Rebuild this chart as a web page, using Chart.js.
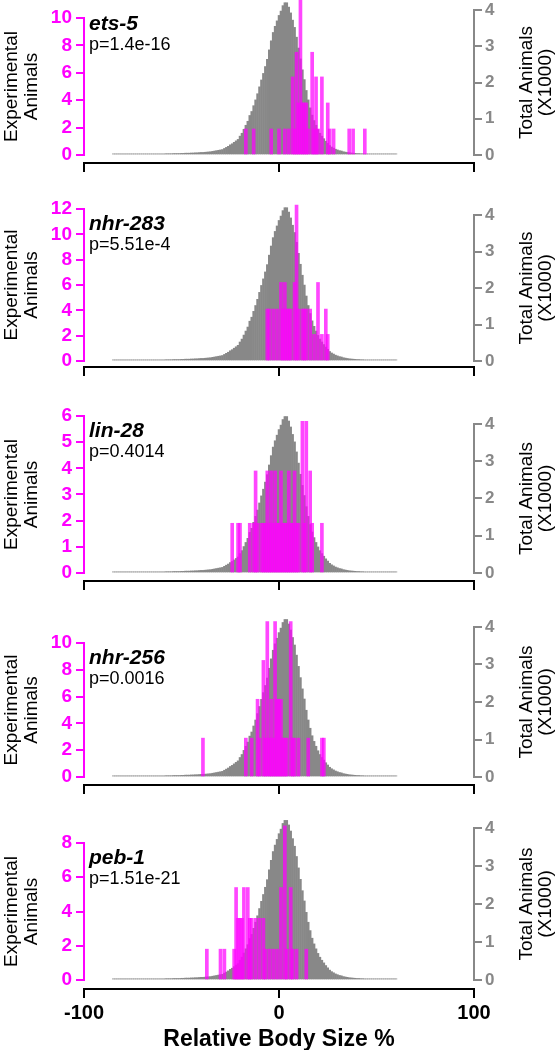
<!DOCTYPE html>
<html>
<head>
<meta charset="utf-8">
<script src="https://cdn.jsdelivr.net/npm/chart.js@4.4.0/dist/chart.umd.min.js"></script>
<style>
  body { margin: 0; background: #fff; width: 560px; height: 1050px; position: relative; overflow: hidden; }
  canvas { position: absolute; left: 0; }
</style>
</head>
<body>
<canvas id="p1" width="560" height="190" style="top:0px"></canvas>
<canvas id="p2" width="560" height="195" style="top:195px"></canvas>
<canvas id="p3" width="560" height="195" style="top:400px"></canvas>
<canvas id="p4" width="560" height="195" style="top:600px"></canvas>
<canvas id="p5" width="560" height="250" style="top:800px"></canvas>
<script>
// gray histogram: all animals, bins of 1 %, counts in thousands
const totalBins = [
  -85,-84,-83,-82,-81,-80,-79,-78,-77,-76,-75,-74,-73,-72,-71,
  -70,-69,-68,-67,-66,-65,-64,-63,-62,-61,
  -60,-59,-58,-57,-56,-55,-54,-53,-52,-51,
  -50,-49,-48,-47,-46,-45,-44,-43,-42,-41,
  -40,-39,-38,-37,-36,-35,-34,-33,-32,-31,
  -30,-29,-28,-27,-26,-25,-24,-23,-22,-21,
  -20,-19,-18,-17,-16,-15,-14,-13,-12,-11,
  -10,-9,-8,-7,-6,-5,-4,-3,-2,-1,
  0,1,2,3,4,5,6,7,8,9,
  10,11,12,13,14,15,16,17,18,19,
  20,21,22,23,24,25,26,27,28,29,
  30,31,32,33,34,35,36,37,38,39,
  40,41,42,43,44,45,46,47,48,49,
  50,51,52,53,54,55,56,57,58,59,60
];
const totalCounts = [
  0.03,0.03,0.03,0.03,0.03,0.03,0.03,0.03,0.03,0.03,0.03,0.03,0.03,0.03,0.03,
  0.03,0.03,0.03,0.03,0.03,0.03,0.03,0.03,0.03,0.03,
  0.03,0.03,0.035,0.035,0.035,0.035,0.04,0.04,0.04,0.04,
  0.045,0.045,0.05,0.05,0.05,0.055,0.055,0.06,0.06,0.065,
  0.07,0.07,0.075,0.08,0.085,0.09,0.1,0.11,0.12,0.13,
  0.14,0.15,0.18,0.21,0.24,0.28,0.31,0.35,0.39,0.43,
  0.52,0.6,0.71,0.82,0.93,1.09,1.2,1.36,1.52,1.69,
  1.88,2.07,2.25,2.44,2.64,2.9,3.15,3.38,3.55,3.7,
  3.85,3.97,4.12,4.2,4.2,4.08,3.92,3.72,3.52,3.25,
  2.95,2.65,2.35,2.08,1.78,1.52,1.3,1.1,0.95,0.82,
  0.7,0.6,0.52,0.45,0.38,0.32,0.26,0.22,0.19,0.16,
  0.14,0.12,0.11,0.09,0.08,0.07,0.06,0.055,0.05,0.045,
  0.04,0.04,0.035,0.035,0.03,0.03,0.03,0.03,0.03,0.03,
  0.03,0.03,0.03,0.03,0.03,0.03,0.03,0.03,0.03,0.03,0.03
];

// magenta histograms: experimental animals per gene
const ets5Bins    = [-17, -13, -4, 0, 3, 5, 7, 8, 9, 10, 11, 12, 13, 14, 15, 17, 18, 19, 20, 22, 25, 26, 28, 36, 38, 44];
const ets5Counts  = [1.9, 1.9, 1.9, 1.9, 1.9, 1.9, 5.7, 1.9, 7.5, 3.8, 11.3, 3.8, 3.8, 3.8, 1.9, 7.5, 1.9, 5.7, 1.9, 5.7, 3.8, 1.9, 1.9, 1.9, 1.9, 1.9];

const nhr283Bins   = [-6, -5, -3, -1, 1, 2, 3, 4, 5, 6, 8, 9, 10, 12, 13, 14, 16, 18, 20, 22, 24, 25];
const nhr283Counts = [4.1, 4.1, 4.1, 4.1, 6.2, 4.1, 6.2, 4.1, 4.1, 4.1, 6.2, 12.3, 4.1, 4.1, 4.1, 4.1, 4.1, 2.1, 6.2, 2.1, 4.1, 2.1];

const lin28Bins   = [-24, -21, -20, -15, -13, -12, -11, -9, -8, -7, -6, -5, -4, -3, -2, -1, 0, 1, 2, 3, 4, 5, 6, 7, 8, 9, 10, 12, 13, 14, 16, 17, 22];
const lin28Counts = [1.9, 1.9, 1.9, 1.9, 1.9, 3.9, 1.9, 1.9, 1.9, 1.9, 3.9, 1.9, 3.9, 1.9, 3.9, 1.9, 1.9, 3.9, 1.9, 1.9, 1.9, 3.9, 1.9, 1.9, 3.9, 1.9, 1.9, 5.8, 1.9, 5.8, 3.9, 1.9, 1.9];

const nhr256Bins   = [-39, -17, -14, -11, -10, -8, -7, -6, -5, -4, -3, -2, -1, 0, 1, 2, 3, 4, 6, 7, 8, 10, 15, 22, 23];
const nhr256Counts = [2.9, 2.9, 2.9, 5.8, 2.9, 8.7, 2.9, 11.6, 2.9, 5.8, 2.9, 11.6, 5.8, 5.8, 5.8, 2.9, 2.9, 2.9, 11.6, 2.9, 2.9, 2.9, 2.9, 2.9, 2.9];

const peb1Bins   = [-37, -30, -28, -23, -22, -21, -20, -19, -18, -16, -15, -14, -12, -10, -8, -7, -5, -3, -1, 1, 3, 4, 6, 7, 9, 14];
const peb1Counts = [1.8, 1.8, 1.8, 1.8, 5.4, 3.6, 3.6, 3.6, 5.4, 5.4, 3.6, 3.6, 3.6, 3.6, 3.6, 1.8, 1.8, 1.8, 1.8, 5.4, 9.0, 1.8, 5.4, 1.8, 1.8, 1.8];

const geneNames = ['ets-5', 'nhr-283', 'lin-28', 'nhr-256', 'peb-1'];
const pValues   = ['p=1.4e-16', 'p=5.51e-4', 'p=0.4014', 'p=0.0016', 'p=1.51e-21'];
const leftMaxes = [10, 12, 6, 10, 8];
const leftSteps = [2, 2, 1, 2, 2];
const rightMax  = 4;
const xTickValues = [-100, 0, 100];

// page geometry of each panel (absolute y in px)
const panels = [
  { id: 'p1', top: 0,   h: 190, axisY: 163, zeroY: 155, leftTopY: 18,  rightTopY: 10,  bins: ets5Bins,   counts: ets5Counts },
  { id: 'p2', top: 195, h: 195, axisY: 367, zeroY: 361, leftTopY: 209, rightTopY: 215, bins: nhr283Bins, counts: nhr283Counts },
  { id: 'p3', top: 400, h: 195, axisY: 581, zeroY: 573, leftTopY: 416, rightTopY: 424, bins: lin28Bins,  counts: lin28Counts },
  { id: 'p4', top: 600, h: 195, axisY: 785, zeroY: 777, leftTopY: 643, rightTopY: 627, bins: nhr256Bins, counts: nhr256Counts },
  { id: 'p5', top: 800, h: 250, axisY: 989, zeroY: 980, leftTopY: 843, rightTopY: 828, bins: peb1Bins,   counts: peb1Counts }
];

const MAGENTA = '#ff00ff';
const AXGRAY = '#888888';
const FONT = "'Liberation Sans', Arial, Helvetica, sans-serif";
const AREA_LEFT = 84, AREA_RIGHT = 474;

const decor = {
  id: 'decor',
  afterDraw(chart, args, o) {
    const ctx = chart.ctx;
    const a = chart.chartArea;
    const yL = chart.scales.yL, yR = chart.scales.yR;
    ctx.save();
    // axis lines only between 0 and top tick
    ctx.lineWidth = 2;
    ctx.strokeStyle = MAGENTA;
    ctx.beginPath();
    ctx.moveTo(a.left, yL.getPixelForValue(0) + 1);
    ctx.lineTo(a.left, yL.getPixelForValue(o.leftMax) - 1);
    ctx.stroke();
    ctx.strokeStyle = AXGRAY;
    ctx.beginPath();
    ctx.moveTo(a.right, yR.getPixelForValue(0) + 1);
    ctx.lineTo(a.right, yR.getPixelForValue(rightMax) - 1);
    ctx.stroke();

    // gene label
    ctx.fillStyle = '#000';
    ctx.textAlign = 'left';
    ctx.textBaseline = 'alphabetic';
    ctx.font = 'italic bold 21px ' + FONT;
    ctx.fillText(o.gene, 89, o.geneY);
    ctx.font = '18px ' + FONT;
    ctx.fillText(o.p, 89, o.geneY + 20);

    // rotated axis titles
    ctx.font = '19px ' + FONT;
    ctx.textAlign = 'center';
    ctx.textBaseline = 'middle';
    const midL = (yL.getPixelForValue(0) + yL.getPixelForValue(o.leftMax)) / 2;
    const midR = (yR.getPixelForValue(0) + yR.getPixelForValue(rightMax)) / 2;
    [['Experimental', 12, midL], ['Animals', 32, midL], ['Total Animals', 527, midR], ['(X1000)', 546, midR]].forEach(t => {
      ctx.save();
      ctx.translate(t[1], t[2]);
      ctx.rotate(-Math.PI / 2);
      ctx.fillText(t[0], 0, 0);
      ctx.restore();
    });

    if (o.showX) {
      ctx.font = 'bold 23px ' + FONT;
      ctx.fillText('Relative Body Size %', (a.left + a.right) / 2, o.titleY);
    }
    ctx.restore();
  }
};

panels.forEach((p, i) => {
  const leftMax = leftMaxes[i];
  const lppu = (p.zeroY - p.leftTopY) / leftMax;
  const rppu = (p.zeroY - p.rightTopY) / rightMax;
  const below = p.axisY - p.zeroY;
  const last = i === panels.length - 1;
  const xHeight = p.h - (p.axisY - p.top);

  new Chart(document.getElementById(p.id), {
    type: 'bar',
    data: {
      datasets: [
        {
          label: 'Experimental',
          data: p.bins.map((b, k) => ({ x: b, y: p.counts[k] })),
          yAxisID: 'yL',
          backgroundColor: 'rgba(255, 0, 255, 0.72)',
          borderWidth: 0,
          barThickness: 3,
          grouped: false,
          order: 0
        },
        {
          label: 'Total',
          data: totalBins.map((b, k) => ({ x: b, y: totalCounts[k] })),
          yAxisID: 'yR',
          backgroundColor: 'rgb(136, 136, 136)',
          borderWidth: 0,
          barThickness: 1.85,
          grouped: false,
          order: 1
        }
      ]
    },
    options: {
      responsive: false,
      animation: false,
      events: [],
      layout: { padding: 0 },
      plugins: {
        legend: { display: false },
        tooltip: { enabled: false },
        decor: {
          gene: geneNames[i], p: pValues[i], leftMax: leftMax,
          geneY: p.leftTopY - p.top + (i === 0 ? 12 : 21),
          showX: last, titleY: 240
        }
      },
      scales: {
        x: {
          type: 'linear',
          offset: false,
          min: -100, max: 100,
          afterBuildTicks: s => { s.ticks = xTickValues.map(v => ({ value: v })); },
          afterFit: s => { s.height = xHeight; s.paddingLeft = 0; s.paddingRight = 0; },
          grid: { offset: false, drawOnChartArea: false, drawTicks: true, tickLength: 9, color: '#000', lineWidth: 2 },
          border: { display: true, color: '#000', width: 2 },
          ticks: {
            display: last,
            color: '#000',
            padding: 3,
            maxRotation: 0,
            font: { family: FONT, size: 20, weight: 'bold' }
          }
        },
        yL: {
          type: 'linear',
          position: 'left',
          min: -below / lppu,
          max: leftMax + (p.leftTopY - p.top) / lppu,
          afterBuildTicks: s => {
            const t = [];
            for (let v = 0; v <= leftMax; v += leftSteps[i]) t.push({ value: v });
            s.ticks = t;
          },
          afterFit: s => { s.width = AREA_LEFT; s.paddingTop = 0; s.paddingBottom = 0; },
          grid: { drawOnChartArea: false, tickLength: 8, color: MAGENTA, lineWidth: 2 },
          border: { display: false },
          ticks: {
            color: MAGENTA,
            padding: 4,
            font: { family: FONT, size: 19, weight: 'bold' }
          }
        },
        yR: {
          type: 'linear',
          position: 'right',
          min: -below / rppu,
          max: rightMax + (p.rightTopY - p.top) / rppu,
          afterBuildTicks: s => {
            const t = [];
            for (let v = 0; v <= rightMax; v += 1) t.push({ value: v });
            s.ticks = t;
          },
          afterFit: s => { s.width = 560 - AREA_RIGHT; s.paddingTop = 0; s.paddingBottom = 0; },
          grid: { drawOnChartArea: false, tickLength: 8, color: AXGRAY, lineWidth: 2 },
          border: { display: false },
          ticks: {
            color: AXGRAY,
            padding: 3,
            font: { family: FONT, size: 17, weight: 'bold' }
          }
        }
      }
    },
    plugins: [decor]
  });
});
</script>
</body>
</html>
